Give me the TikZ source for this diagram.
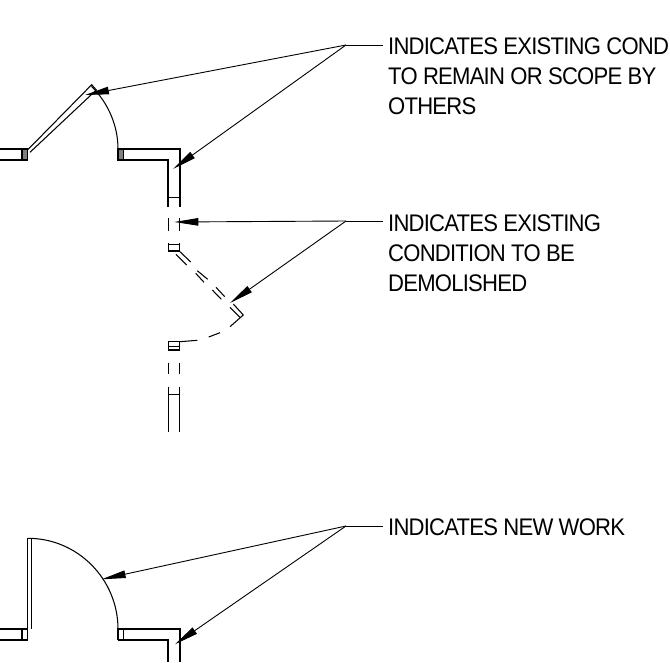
\documentclass[tikz,border=0pt]{standalone}
\usepackage{fontspec}
\setmainfont{Liberation Sans}[FakeStretch=0.92,LetterSpace=-3.25]
\usetikzlibrary{arrows.meta}
\tikzset{
  wall/.style={draw=black,line width=1.05pt,line join=miter},
  thin/.style={draw=black,line width=1.05pt},
  jamb/.style={draw=black,fill=black!50,line width=1.05pt},
  leader/.style={draw=black,line width=0.9pt},
  pointer/.style={leader,-{Triangle[length=24pt,width=7.5pt]},shorten >=0pt},
  note/.style={anchor=north west,inner sep=0pt,align=left,font=\fontsize{24}{29.7}\selectfont},
}
\begin{document}
\begin{tikzpicture}[x=1pt,y=-1pt]
\useasboundingbox (0,0) rectangle (670,662);
\clip (0,0) rectangle (670,662);
\fill[white] (0,0) rectangle (670,662);
% --- upper plan: existing door
\draw[wall] (0,149) -- (27.7,149) -- (27.7,160) -- (0,160);
\draw[jamb] (22,149) rectangle (27.7,160);
\draw[wall] (118,160) -- (118,149) -- (180,149) -- (180,197.5) -- (168,197.5) -- (168,160) -- cycle;
\draw[jamb] (118,149) rectangle (123.5,160);
\draw[thin] (168,197.5) -- (168,207) (180,197.5) -- (180,207);
\draw[wall] (27.5,150) -- (91.7,84.7) -- (96.3,90) -- (30,152.3);
\draw[thin] (118,149) .. controls (118,126) and (108.5,103.3) .. (91.6,86.4);
% --- demolished part
\draw[thin] (168.3,218.3) -- (168.3,230.7) (179.5,218.3) -- (179.5,230.7);
\draw[thin] (168.3,242.7) -- (168.3,251.7) (179.5,242.7) -- (179.5,251.7)
  (168.3,244.5) -- (179.5,244.5) (168.3,251) -- (179.5,251);
\draw[thin] (180,251.7) -- (190.7,262) (197.3,270.7) -- (207.7,279.3) (216,287.3) -- (224.7,296.7) (233.3,304) -- (243.3,315);
\draw[thin] (176,254.3) -- (186.7,265) (195.7,273.3) -- (204,282.3) (212.3,290) -- (221.3,299.3) (230,307.3) -- (240,317.3);
\draw[thin] (243.3,315) -- (230,326.7);
\draw[thin] (220,332.7) -- (208.7,337) (197.3,340.3) -- (180,341.7);
\draw[thin] (168.3,341) -- (168.3,350.5) (179.5,341) -- (179.5,350.5)
  (168.3,341.7) -- (179.5,341.7) (168.3,346.7) -- (179.5,346.7) (168.3,350) -- (179.5,350);
\draw[thin] (168.3,362.7) -- (168.3,374.3) (179.5,362.7) -- (179.5,374.3);
\draw[thin] (168.3,386.7) -- (168.3,432.3) (179.5,386.7) -- (179.5,432.3) (168.3,394.7) -- (179.5,394.7);
% --- lower plan: new work
\draw[wall] (0,629) -- (27.7,629) -- (27.7,640) -- (0,640);
\draw[thin] (22,629) -- (22,640);
\draw[wall] (27.7,629) -- (27.7,538.3) -- (31.7,538.3) -- (31.7,629);
\draw[wall] (118,640) -- (118,629) -- (180,629) -- (180,662);
\draw[wall] (118,640) -- (168,640) -- (168,662);
\draw[thin] (123.5,629) -- (123.5,640);
\draw[thin] (118,629) .. controls (118,579.3) and (77.7,538.3) .. (28,538.3);
% --- notes
\node[note] (n1) at (388,37.8) {INDICATES EXISTING COND\\TO REMAIN OR SCOPE BY\\OTHERS};
\node[note] (n2) at (388,214.8) {INDICATES EXISTING\\CONDITION TO BE\\DEMOLISHED};
\node[note] (n3) at (388,518.5) {INDICATES NEW WORK};
% --- leaders
\coordinate (s1) at (383,45); \coordinate (e1) at (346,45);
\coordinate (a1) at (85,95); \coordinate (a2) at (173,169);
\coordinate (s2) at (383,221); \coordinate (e2) at (346,221);
\coordinate (a3) at (174.3,222); \coordinate (a4) at (230,303);
\coordinate (s3) at (383,526); \coordinate (e3) at (346,526);
\coordinate (a5) at (101.7,579.3); \coordinate (a6) at (175,644.3);
\draw[leader] (s1) -- (e1);
\draw[pointer] (e1) -- (a1);
\draw[pointer] (e1) -- (a2);
\draw[leader] (s2) -- (e2);
\draw[pointer] (e2) -- (a3);
\draw[pointer] (e2) -- (a4);
\draw[leader] (s3) -- (e3);
\draw[pointer] (e3) -- (a5);
\draw[pointer] (e3) -- (a6);
\end{tikzpicture}
\end{document}
